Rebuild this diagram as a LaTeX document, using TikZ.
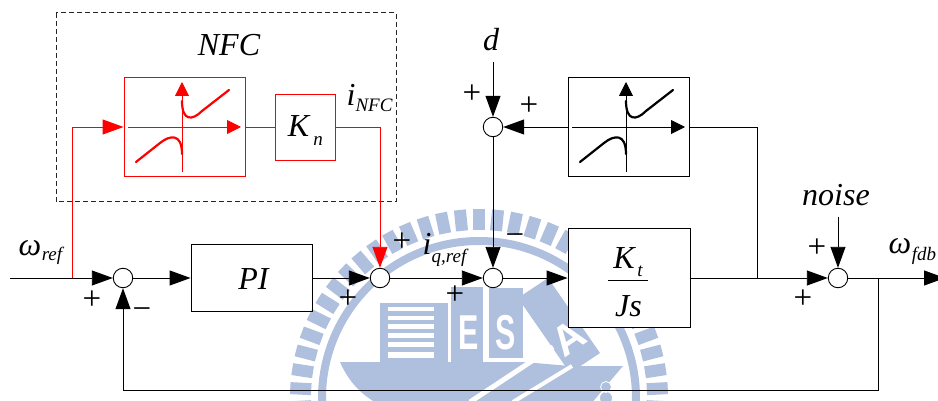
\documentclass[tikz,border=0pt]{standalone}
\usepackage{fontspec}
\setmainfont{Liberation Serif}
\newfontfamily\sealfont{Liberation Sans}
\usetikzlibrary{arrows.meta}
\definecolor{sealblue}{RGB}{175,191,222}
\tikzset{
  wire/.style={line width=0.9pt},
  tip/.style={-{Triangle[length=21pt,width=15pt]}},
  smalltip/.style={-{Triangle[length=14pt,width=14pt]}},
  sumnode/.style={circle,draw,fill=white,line width=0.9pt,minimum size=19.5pt,inner sep=0pt},
  blockbox/.style={draw,line width=0.9pt,inner sep=0pt,minimum width=#1},
  bigtext/.style={inner sep=0pt,font=\fontsize{32}{32}\selectfont\itshape},
  subtext/.style={inner sep=0pt,font=\fontsize{19}{19}\selectfont\itshape},
  signtext/.style={inner sep=0pt,font=\fontsize{33}{33}\selectfont},
  curve/.style={line width=2.2pt,line cap=round},
  seal/.style={sealblue}
}
\newcommand{\nlglyph}[2]{
  \begin{scope}[shift={(#1)},#2]
    \draw[wire,smalltip] (-54,0) -- (59,0);
    \draw[wire,smalltip] (0,45) -- (0,-45);
    \draw[curve] (-46,35) -- (-22,16) .. controls (-12,8) and (0,6) .. (0,27);
    \draw[curve] (0,-26) .. controls (0,-6) and (10,-6) .. (20,-16) -- (47,-37);
  \end{scope}
}
\begin{document}
\begin{tikzpicture}[x=1pt,y=-1pt]
  \clip (0,0) rectangle (938,401);
  % seal behind the diagram
  \begin{scope}[shift={(479,398)}]
    \foreach \k in {-16,...,16}
      \draw[seal,line width=12pt] ({-90+\k*5.8}:168) -- ({-90+\k*5.8}:189);
    \draw[seal,line width=8pt] (0,0) circle (157);
  \end{scope}
  \fill[seal] (340,362) .. controls (350,385) and (365,397) .. (380,405) -- (590,405) -- (623,366) -- (570,366) -- (523,362) -- cycle;
  \fill[seal] (380,303) rectangle (448,362);
  \foreach \y/\h in {307/4,316/4,324/5,333/5,342/5,352/6}
    \fill[white] (388,\y) rectangle (434,\y+\h);
  \draw[white,line width=1.3pt] (448.5,303) -- (448.5,362);
  \fill[seal] (451,287) rectangle (483,362);
  \fill[seal] (489,288) rectangle (523,358);
  \fill[seal] (518,298) -- (548,278) -- (600,353) -- (570,373) -- cycle;
  \draw[white,line width=5pt] (470,402) -- (553,347);
  \draw[white,line width=4pt] (513,402) -- (572,366);
  \node[white,inner sep=0pt,xscale=0.62,font=\sealfont\bfseries\fontsize{49}{49}\selectfont] (sealE) at (468.5,333) {E};
  \node[white,inner sep=0pt,xscale=0.62,font=\sealfont\bfseries\fontsize{49}{49}\selectfont] (sealS) at (506,333) {S};
  \node[white,inner sep=0pt,rotate=35,font=\sealfont\bfseries\fontsize{42}{42}\selectfont] (sealA) at (569,338) {A};
  \filldraw[seal,draw=white,line width=0.8pt] (606,387) circle (5.5) (606,398) circle (6.5);

  % frame of the NFC part
  \draw[line width=1pt,black!85,dash pattern=on 5pt off 3pt] (56,13) rectangle (396,202);
  \node[bigtext] (NFC) at (229,45) {NFC};

  \node[sumnode] (sum1) at (123,278) {};
  \node[sumnode] (sum2) at (380,278) {};
  \node[sumnode] (sum3) at (493,278) {};
  \node[sumnode] (sum4) at (838,278) {};
  \node[sumnode] (sumT) at (493,127) {};
  \node[blockbox=121pt,minimum height=67pt] (PI) at (251.5,278) {};
  \node[blockbox=122pt,minimum height=99pt,fill=white] (Kt) at (629,278) {};
  \node[blockbox=121pt,minimum height=99pt] (nlK) at (628.5,127) {};
  \node[blockbox=121pt,minimum height=99pt,red] (nlR) at (184.5,127) {};
  \node[blockbox=60pt,minimum height=66pt,red] (Kn) at (305,127) {};
  \coordinate (wIn) at (10,278);
  \coordinate (wOut) at (945,278);
  \coordinate (dIn) at (493,62);
  \coordinate (nIn) at (838,217);
  \coordinate (brR) at (72,278);
  \coordinate (brK) at (757,278);
  \coordinate (brF) at (878,278);
  \coordinate (fbR) at (878,390);
  \coordinate (fbL) at (123,390);

  \nlglyph{182,127}{red}
  \nlglyph{626,127}{black}

  \draw[wire,tip] (wIn) -- (sum1);
  \draw[wire,tip] (sum1) -- (PI);
  \draw[wire,tip] (PI) -- (sum2);
  \draw[wire,tip] (sum2) -- (sum3);
  \draw[wire,tip] (sum3) -- (Kt);
  \draw[wire,tip] (Kt) -- (sum4);
  \draw[wire,tip] (sum4) -- (wOut);
  \draw[wire,tip] (dIn) -- (sumT);
  \draw[wire,tip] (nIn) -- (sum4);
  \draw[wire,tip] (nlK) -- (sumT);
  \draw[wire] (brK) |- (nlK);
  \draw[wire,tip] (sumT) -- (sum3);
  \draw[wire,tip] (brF) -- (fbR) -- (fbL) -- (sum1);
  \draw[wire,red,tip] (brR) |- (nlR);
  \draw[wire,red] (nlR) -- (Kn);
  \draw[wire,red,tip] (Kn) -| (sum2);

  \node[bigtext] (PIlab) at (253.5,279) {PI};
  \node[bigtext] (dlab) at (491,40) {d};
  \node[bigtext] (noiselab) at (836,195) {noise};
  \node[bigtext] (KnK) at (298.5,126) {K};
  \node[subtext] (Knn) at (318,141) {n};
  \node[bigtext] (KtK) at (624,258) {K};
  \node[subtext] (Ktt) at (640,271) {t};
  \coordinate (barL) at (608,280);
  \coordinate (barR) at (648,280);
  \draw[line width=1pt] (barL) -- (barR);
  \node[bigtext] (Js) at (628.5,306) {Js};
  \node[bigtext] (iNFC) at (351,95) {i};
  \node[subtext] (iNFCsub) at (374,105) {NFC};
  \node[bigtext] (iq) at (427,244) {i};
  \node[subtext] (iqsub) at (449,258) {q,ref};
  \node[bigtext] (wref) at (30,248) {ω};
  \node[subtext] (wrefsub) at (52,256) {ref};
  \node[bigtext] (wfdb) at (900,246) {ω};
  \node[subtext] (wfdbsub) at (924,256) {fdb};

  \node[signtext] (p1) at (92,300) {+};
  \node[signtext] (m1) at (142,314) {−};
  \node[signtext] (p2) at (402,242) {+};
  \node[signtext] (p3) at (348,299) {+};
  \node[signtext] (m2) at (515,240) {−};
  \node[signtext] (p4) at (455,295) {+};
  \node[signtext] (p5) at (472,94) {+};
  \node[signtext] (p6) at (529,106) {+};
  \node[signtext] (p7) at (817,248) {+};
  \node[signtext] (p8) at (803,299) {+};
\end{tikzpicture}
\end{document}
